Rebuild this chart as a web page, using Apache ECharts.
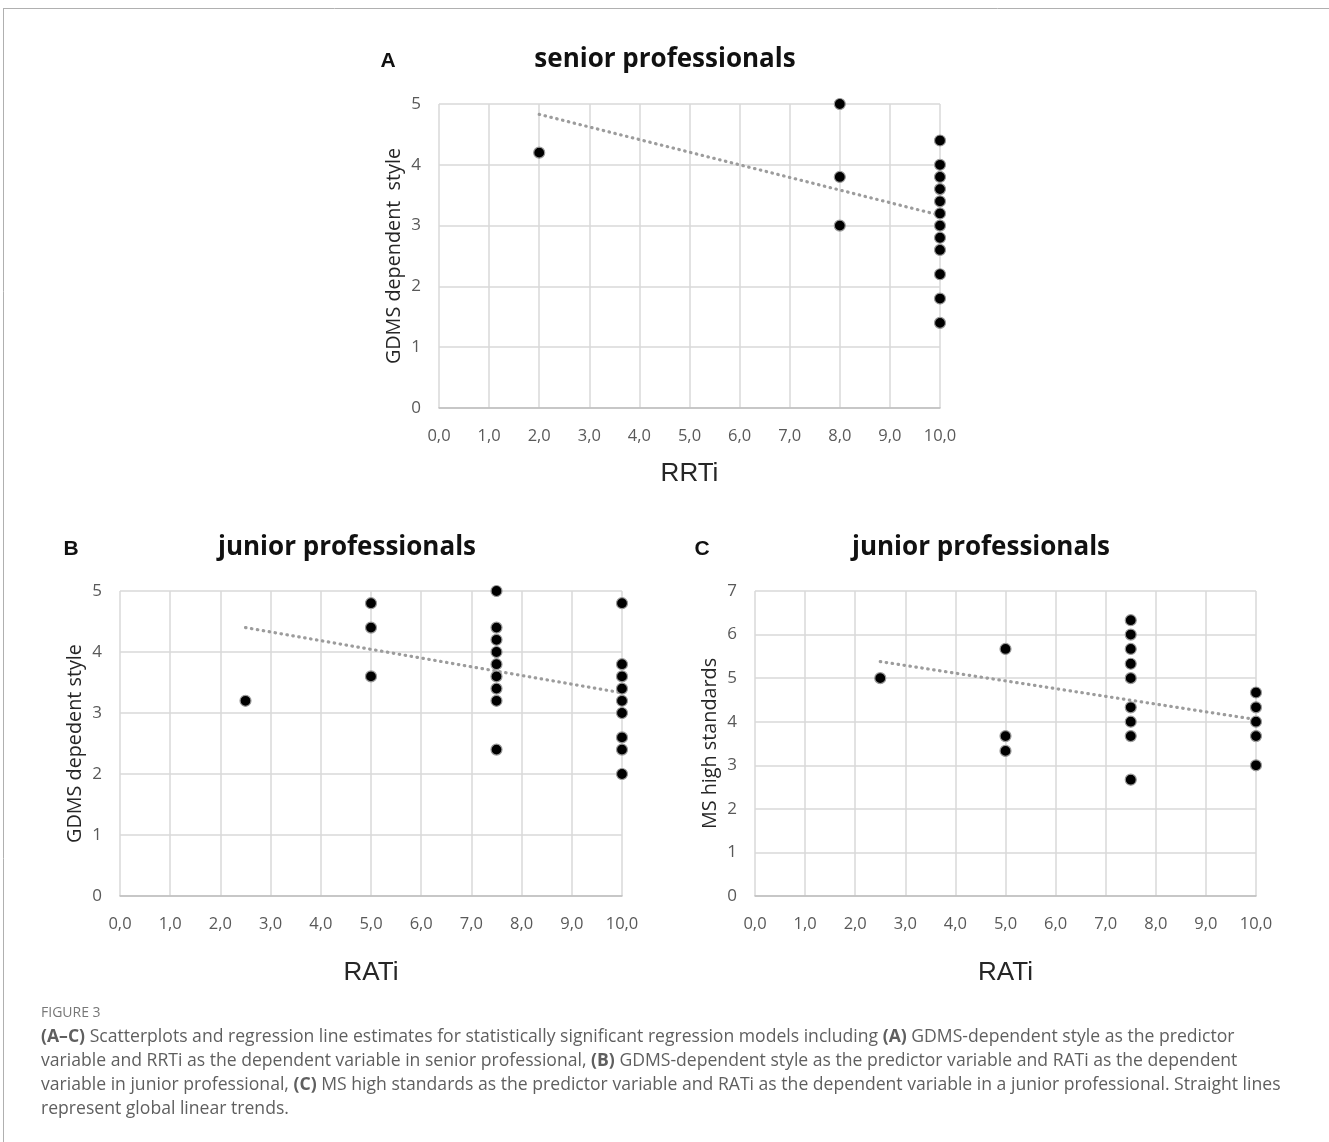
<!DOCTYPE html>
<html>
<head>
<meta charset="utf-8">
<script src="https://cdn.jsdelivr.net/npm/echarts@6/dist/echarts.min.js"></script>
<style>
html,body{margin:0;padding:0;background:#fff;}
#chart{width:1329px;height:1142px;}
</style>
</head>
<body>
<div id="chart"></div>
<script>
// ---- data ----
var xTicksLabelFmt = function (v) { return v.toFixed(1).replace('.', ','); };

var seniorRRTi = [2, 8, 8, 8, 10, 10, 10, 10, 10, 10, 10, 10, 10, 10, 10, 10];
var seniorGDMS = [4.2, 5, 3.8, 3, 4.4, 4.0, 3.8, 3.6, 3.4, 3.2, 3.0, 2.8, 2.6, 2.2, 1.8, 1.4];
var seniorTrendX = [2, 10];
var seniorTrendY = [4.83, 3.17];

var juniorRATi_B = [2.5, 5, 5, 5, 7.5, 7.5, 7.5, 7.5, 7.5, 7.5, 7.5, 7.5, 7.5, 10, 10, 10, 10, 10, 10, 10, 10, 10];
var juniorGDMS = [3.2, 4.8, 4.4, 3.6, 5, 4.4, 4.2, 4.0, 3.8, 3.6, 3.4, 3.2, 2.4, 4.8, 3.8, 3.6, 3.4, 3.2, 3.0, 2.6, 2.4, 2.0];
var juniorTrendXB = [2.5, 10];
var juniorTrendYB = [4.40, 3.33];

var juniorRATi_C = [2.5, 5, 5, 5, 7.5, 7.5, 7.5, 7.5, 7.5, 7.5, 7.5, 7.5, 7.5, 10, 10, 10, 10, 10];
var juniorMS = [5.0, 5.67, 3.67, 3.33, 6.33, 6.0, 5.67, 5.33, 5.0, 4.33, 4.0, 3.67, 2.67, 4.67, 4.33, 4.0, 3.67, 3.0];
var juniorTrendXC = [2.5, 10];
var juniorTrendYC = [5.38, 4.05];

var panelTitles = ['senior professionals', 'junior professionals', 'junior professionals'];
var panelLetters = ['A', 'B', 'C'];
var xNames = ['RRTi', 'RATi', 'RATi'];
var yNames = ['GDMS dependent  style', 'GDMS depedent style', 'MS high standards'];
var yMax = [5, 5, 7];

function zip(a, b) { return a.map(function (v, i) { return [v, b[i]]; }); }

var grids = [
  { left: 439, top: 104, width: 501, height: 304 },
  { left: 120, top: 591, width: 502, height: 305 },
  { left: 755, top: 591, width: 501, height: 305 }
];
var xNameGaps = [53, 64, 64];

var xAxes = [], yAxes = [];
for (var i = 0; i < 3; i++) {
  xAxes.push({
    gridIndex: i, type: 'value', min: 0, max: 10, interval: 1,
    name: xNames[i], nameLocation: 'middle', nameGap: xNameGaps[i],
    nameTextStyle: { fontFamily: 'Liberation Sans', fontSize: 26, color: '#262626' },
    axisLine: { show: true, lineStyle: { color: '#bfbfbf', width: 1.5 } },
    axisTick: { show: false },
    axisLabel: { formatter: xTicksLabelFmt, margin: 20, fontFamily: 'Open Sans', fontSize: 16.5, color: '#595959' },
    splitLine: { show: true, lineStyle: { color: '#d9d9d9', width: 1.5 } }
  });
  yAxes.push({
    gridIndex: i, type: 'value', min: 0, max: yMax[i], interval: 1,
    name: yNames[i], nameLocation: 'middle', nameGap: 35,
    nameTextStyle: { fontFamily: 'Open Sans', fontSize: 19.8, color: '#262626' },
    axisLine: { show: false },
    axisTick: { show: false },
    axisLabel: { margin: 18, fontFamily: 'Open Sans', fontSize: 17, color: '#595959' },
    splitLine: { show: true, lineStyle: { color: '#d9d9d9', width: 1.5 } }
  });
}

function scatter(idx, xs, ys) {
  return {
    type: 'scatter', xAxisIndex: idx, yAxisIndex: idx, data: zip(xs, ys),
    symbol: 'circle', symbolSize: 11,
    itemStyle: { color: '#000', borderColor: '#9a9a9a', borderWidth: 1.2, opacity: 1 },
    z: 5
  };
}
function trend(idx, xs, ys) {
  return {
    type: 'line', xAxisIndex: idx, yAxisIndex: idx, data: zip(xs, ys),
    symbol: 'none', silent: true,
    lineStyle: { color: '#9c9c9c', width: 3.2, type: [0.5, 5.5], cap: 'round' },
    z: 3
  };
}

var titleStyle = { fontFamily: 'Open Sans', fontWeight: 'bold', fontSize: 26, fill: '#111' };
var letterStyle = { fontFamily: 'Liberation Sans', fontWeight: 'bold', fontSize: 21, fill: '#111' };
var capBase = { fontFamily: 'Open Sans', fontSize: 17.6, color: '#5f5f5f' };
var capBold = { fontFamily: 'Open Sans', fontSize: 17.6, color: '#444', fontWeight: 'bold' };

var captionLines = [
  '{b|(A–C)} Scatterplots and regression line estimates for statistically significant regression models including {b|(A)} GDMS-dependent style as the predictor',
  'variable and RRTi as the dependent variable in senior professional, {b|(B)} GDMS-dependent style as the predictor variable and RATi as the dependent',
  'variable in junior professional, {b|(C)} MS high standards as the predictor variable and RATi as the dependent variable in a junior professional. Straight lines',
  'represent global linear trends.'
];
var captionY = [1037, 1061, 1085, 1109];

var graphics = [
  { type: 'line', shape: { x1: 3, y1: 8.5, x2: 1329, y2: 8.5 }, style: { stroke: '#b0b0b0', lineWidth: 1 } },
  { type: 'line', shape: { x1: 3.5, y1: 8, x2: 3.5, y2: 1142 }, style: { stroke: '#b0b0b0', lineWidth: 1 } },
  { type: 'text', x: 665, y: 60, style: Object.assign({ text: panelTitles[0], align: 'center', verticalAlign: 'middle' }, titleStyle) },
  { type: 'text', x: 347, y: 548, style: Object.assign({ text: panelTitles[1], align: 'center', verticalAlign: 'middle' }, titleStyle) },
  { type: 'text', x: 981, y: 548, style: Object.assign({ text: panelTitles[2], align: 'center', verticalAlign: 'middle' }, titleStyle) },
  { type: 'text', x: 388, y: 61, style: Object.assign({ text: panelLetters[0], align: 'center', verticalAlign: 'middle' }, letterStyle) },
  { type: 'text', x: 71, y: 549, style: Object.assign({ text: panelLetters[1], align: 'center', verticalAlign: 'middle' }, letterStyle) },
  { type: 'text', x: 702, y: 549, style: Object.assign({ text: panelLetters[2], align: 'center', verticalAlign: 'middle' }, letterStyle) },
  { type: 'text', x: 41, y: 1013, style: { text: 'FIGURE 3', fontFamily: 'Open Sans', fontSize: 14, fill: '#777', verticalAlign: 'middle' } }
];
captionLines.forEach(function (t, i) {
  graphics.push({ type: 'text', x: 41, y: captionY[i], style: { text: t, verticalAlign: 'middle', fontFamily: capBase.fontFamily, fontSize: capBase.fontSize, fill: capBase.color, rich: { b: capBold } } });
});

var chart = echarts.init(document.getElementById('chart'), null, { renderer: 'canvas' });
chart.setOption({
  backgroundColor: '#fff',
  animation: false,
  grid: grids,
  xAxis: xAxes,
  yAxis: yAxes,
  series: [
    trend(0, seniorTrendX, seniorTrendY), scatter(0, seniorRRTi, seniorGDMS),
    trend(1, juniorTrendXB, juniorTrendYB), scatter(1, juniorRATi_B, juniorGDMS),
    trend(2, juniorTrendXC, juniorTrendYC), scatter(2, juniorRATi_C, juniorMS)
  ],
  graphic: graphics
});
</script>
</body>
</html>
